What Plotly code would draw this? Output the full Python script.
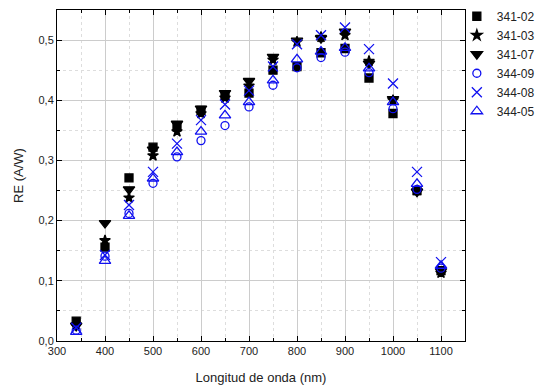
import plotly.graph_objects as go

# Responsivity (A/W) versus wavelength for six photodiodes
wavelength = [340, 400, 450, 500, 550, 600, 650, 700, 750, 800, 850, 900, 950, 1000, 1050, 1100]

re_341_02 = [0.033, 0.156, 0.271, 0.322, 0.356, 0.383, 0.408, 0.412, 0.450, 0.456, 0.479, 0.486, 0.437, 0.378, 0.250, 0.117]
re_341_03 = [0.027, 0.167, 0.238, 0.308, 0.348, 0.378, 0.404, 0.424, 0.467, 0.497, 0.505, 0.508, 0.465, 0.400, 0.250, 0.113]
re_341_07 = [0.025, 0.196, 0.252, 0.318, 0.361, 0.386, 0.412, 0.432, 0.472, 0.499, 0.503, 0.514, 0.461, 0.402, 0.248, 0.116]
re_344_09 = [0.018, 0.141, 0.212, 0.262, 0.306, 0.333, 0.358, 0.389, 0.425, 0.454, 0.471, 0.480, 0.446, 0.386, 0.252, 0.121]
re_344_08 = [0.022, 0.143, 0.226, 0.281, 0.328, 0.367, 0.393, 0.416, 0.456, 0.493, 0.508, 0.521, 0.485, 0.428, 0.281, 0.131]
re_344_05 = [0.015, 0.133, 0.208, 0.270, 0.314, 0.348, 0.375, 0.397, 0.433, 0.468, 0.481, 0.487, 0.453, 0.397, 0.261, 0.125]

series = [
    ("341-02", re_341_02, "square", "black", 8),
    ("341-03", re_341_03, "star", "black", 8),
    ("341-07", re_341_07, "triangle-down", "black", 10),
    ("344-09", re_344_09, "circle-open", "#1010f0", 8),
    ("344-08", re_344_08, "x-thin-open", "#1010f0", 10),
    ("344-05", re_344_05, "triangle-up-open", "#1010f0", 10),
]

fig = go.Figure()
for name, values, symbol, color, size in series:
    fig.add_trace(go.Scatter(
        x=wavelength, y=values, name=name, mode="markers",
        marker=dict(symbol=symbol, color=color, size=size,
                    line=dict(color=color, width=1.3)),
    ))

font = "Liberation Sans, Arial, sans-serif"
axis_common = dict(
    showline=True, linecolor="black", linewidth=1, mirror="allticks",
    ticks="inside", ticklen=5, tickcolor="black",
    showgrid=True, gridcolor="#cccccc", gridwidth=1, zeroline=False,
    tickfont=dict(size=11, color="#222222"),
)

fig.update_layout(
    width=544, height=392,
    margin=dict(l=57, r=79, t=10, b=51, autoexpand=False),
    paper_bgcolor="white", plot_bgcolor="white",
    separators=",.",
    font=dict(family=font, color="#222222"),
    showlegend=True,
    legend=dict(x=0.98, y=1.025, xanchor="left", yanchor="top",
                font=dict(size=12), tracegroupgap=0,
                bgcolor="rgba(0,0,0,0)", itemwidth=30),
    xaxis=dict(
        range=[300, 1150], tick0=300, dtick=100, automargin=False,
        title=dict(text="Longitud de onda (nm)", font=dict(size=13), standoff=16),
        minor=dict(dtick=50, showgrid=True, griddash="dot", gridcolor="#dddddd",
                   ticks="inside", ticklen=3, tickcolor="black"),
        **axis_common,
    ),
    yaxis=dict(
        range=[0, 0.55], tick0=0, dtick=0.1, tickformat=".1f", automargin=False,
        title=dict(text="RE (A/W)", font=dict(size=13), standoff=11),
        minor=dict(dtick=0.05, showgrid=True, griddash="dot", gridcolor="#dddddd",
                   ticks="inside", ticklen=3, tickcolor="black"),
        **axis_common,
    ),
)

fig.write_html("out.html")
